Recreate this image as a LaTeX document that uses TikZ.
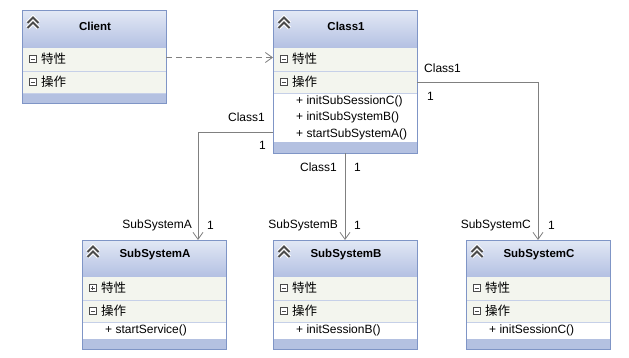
\documentclass[tikz,border=0pt]{standalone}
\usepackage{fontspec}
\setmainfont{Liberation Sans}
\newfontfamily\cjk{Noto Sans CJK SC}
\usetikzlibrary{arrows.meta}

\definecolor{boxborder}{HTML}{7F95C6}
\definecolor{hdtop}{HTML}{E2E8F5}
\definecolor{hdbot}{HTML}{B3C0E2}
\definecolor{rowbg}{HTML}{F3F5EE}
\definecolor{rowsep}{HTML}{C6D0E8}
\definecolor{band}{HTML}{B4C1E1}
\definecolor{wire}{HTML}{808080}
\definecolor{glyph}{HTML}{4A4A4A}

\tikzset{
  txt/.style={font=\fontsize{12}{14}\selectfont, inner sep=0pt, text=black},
  title/.style={inner sep=0pt, text=black, font=\fontsize{11.5}{13}\selectfont\bfseries},
  cjktxt/.style={inner sep=0pt, text=black, font=\fontsize{12.5}{14}\selectfont\cjk},
  frame/.style={draw=boxborder, line width=1pt},
  slot/.style={minimum width=144pt, inner sep=0pt, outer sep=0pt, anchor=north west},
  assoc/.style={draw=wire, line width=0.8pt, -{Straight Barb[length=7pt,width=10pt,line width=0.8pt]}},
  depend/.style={assoc, dash pattern=on 6pt off 4pt},
  role/.style={txt},
  togglebox/.style={draw=glyph, fill=white, line width=0.6pt},
}

% small +/- box in front of a compartment name; #3 = 1 draws the plus
\newcommand\compartmenttoggle[3]{%
  \draw[togglebox] ({#1-3.5},{#2-3.5}) rectangle ({#1+3.5},{#2+3.5});
  \draw[glyph, line width=0.8pt] ({#1-2},#2) -- ({#1+2},#2);
  \ifnum#3=1 \draw[glyph, line width=0.8pt] (#1,{#2-2}) -- (#1,{#2+2});\fi
}

% one operation line, #1 = row number
\newcommand\opline[2]{%
  \node[txt, anchor=west] at (23,{82+16.5*(#1-0.5)}) {#2};
}

% class box: name, x, y, title, attribute toggle, number of operations, operation lines
\newcommand\umlclass[7]{%
  \pgfmathsetmacro\opsend{82+16.5*#6}
  \pgfmathsetmacro\boxend{93+16.5*#6}
  \node[slot, minimum height=\boxend pt] (#1) at (#2,#3) {};
  \begin{scope}[shift={(#1.north west)}]
    \shade[top color=hdtop, bottom color=hdbot] (0,0) rectangle (144,37);
    \fill[rowbg] (0,37) rectangle (144,82);
    \fill[white] (0,82) rectangle (144,\opsend);
    \fill[band] (0,\opsend) rectangle (144,\boxend);
    \draw[rowsep] (0,60) -- (144,60) (0,82) -- (144,82);
    \draw[white, line width=4pt] (5.5,12)--(11,6.5)--(16.5,12) (5.5,17)--(11,11.5)--(16.5,17);
    \draw[glyph, line width=1.9pt] (5.5,12)--(11,6.5)--(16.5,12) (5.5,17)--(11,11.5)--(16.5,17);
    \node[title] at (73,15) {#4};
    \compartmenttoggle{10.5}{48}{#5}
    \node[cjktxt, anchor=west] at (19,48) {特性};
    \compartmenttoggle{10.5}{71}{0}
    \node[cjktxt, anchor=west] at (19,71) {操作};
    #7
  \end{scope}
  \draw[frame] (#1.north west) rectangle (#1.south east);
}

\begin{document}
\begin{tikzpicture}[x=1pt, y=-1pt]
  \useasboundingbox[fill=white] (0,0) rectangle (629,358);

  \umlclass{client}{22}{11}{Client}{0}{0}{}
  \umlclass{class1}{273}{11}{Class1}{0}{3}{%
    \opline{1}{+ initSubSessionC()}
    \opline{2}{+ initSubSystemB()}
    \opline{3}{+ startSubSystemA()}}
  \umlclass{suba}{82}{240}{SubSystemA}{1}{1}{\opline{1}{+ startService()}}
  \umlclass{subb}{273}{240}{SubSystemB}{0}{1}{\opline{1}{+ initSessionB()}}
  \umlclass{subc}{466}{240}{SubSystemC}{0}{1}{\opline{1}{+ initSessionC()}}

  % dependency Client -> Class1
  \draw[depend] (client.east) -- (client.east -| class1.west);

  % association Class1 -> SubSystemA
  \coordinate (a1) at ([yshift=-121pt]class1.north west);
  \coordinate (a2) at ([xshift=116pt]suba.north west);
  \draw[assoc] (a1) -| (a2);
  \node[role, anchor=east] at ([shift={(-8,-15)}]a1) {Class1};
  \node[role, anchor=east] at ([shift={(-7,13)}]a1) {1};
  \node[role, anchor=east] at ([shift={(-6,-15)}]a2) {SubSystemA};
  \node[role, anchor=west] at ([shift={(9,-15)}]a2) {1};

  % association Class1 -> SubSystemB
  \coordinate (b1) at (class1.south);
  \coordinate (b2) at (subb.north);
  \draw[assoc] (b1) -- (b2);
  \node[role, anchor=east] at ([shift={(-8,13.5)}]b1) {Class1};
  \node[role, anchor=west] at ([shift={(9,13.5)}]b1) {1};
  \node[role, anchor=east] at ([shift={(-7,-15)}]b2) {SubSystemB};
  \node[role, anchor=west] at ([shift={(9,-15)}]b2) {1};

  % association Class1 -> SubSystemC
  \coordinate (c1) at (class1.east);
  \coordinate (c2) at (subc.north);
  \draw[assoc] (c1) -| (c2);
  \node[role, anchor=west] at ([shift={(7,-14)}]c1) {Class1};
  \node[role, anchor=west] at ([shift={(10,14)}]c1) {1};
  \node[role, anchor=east] at ([shift={(-7,-15)}]c2) {SubSystemC};
  \node[role, anchor=west] at ([shift={(10,-15)}]c2) {1};
\end{tikzpicture}
\end{document}
